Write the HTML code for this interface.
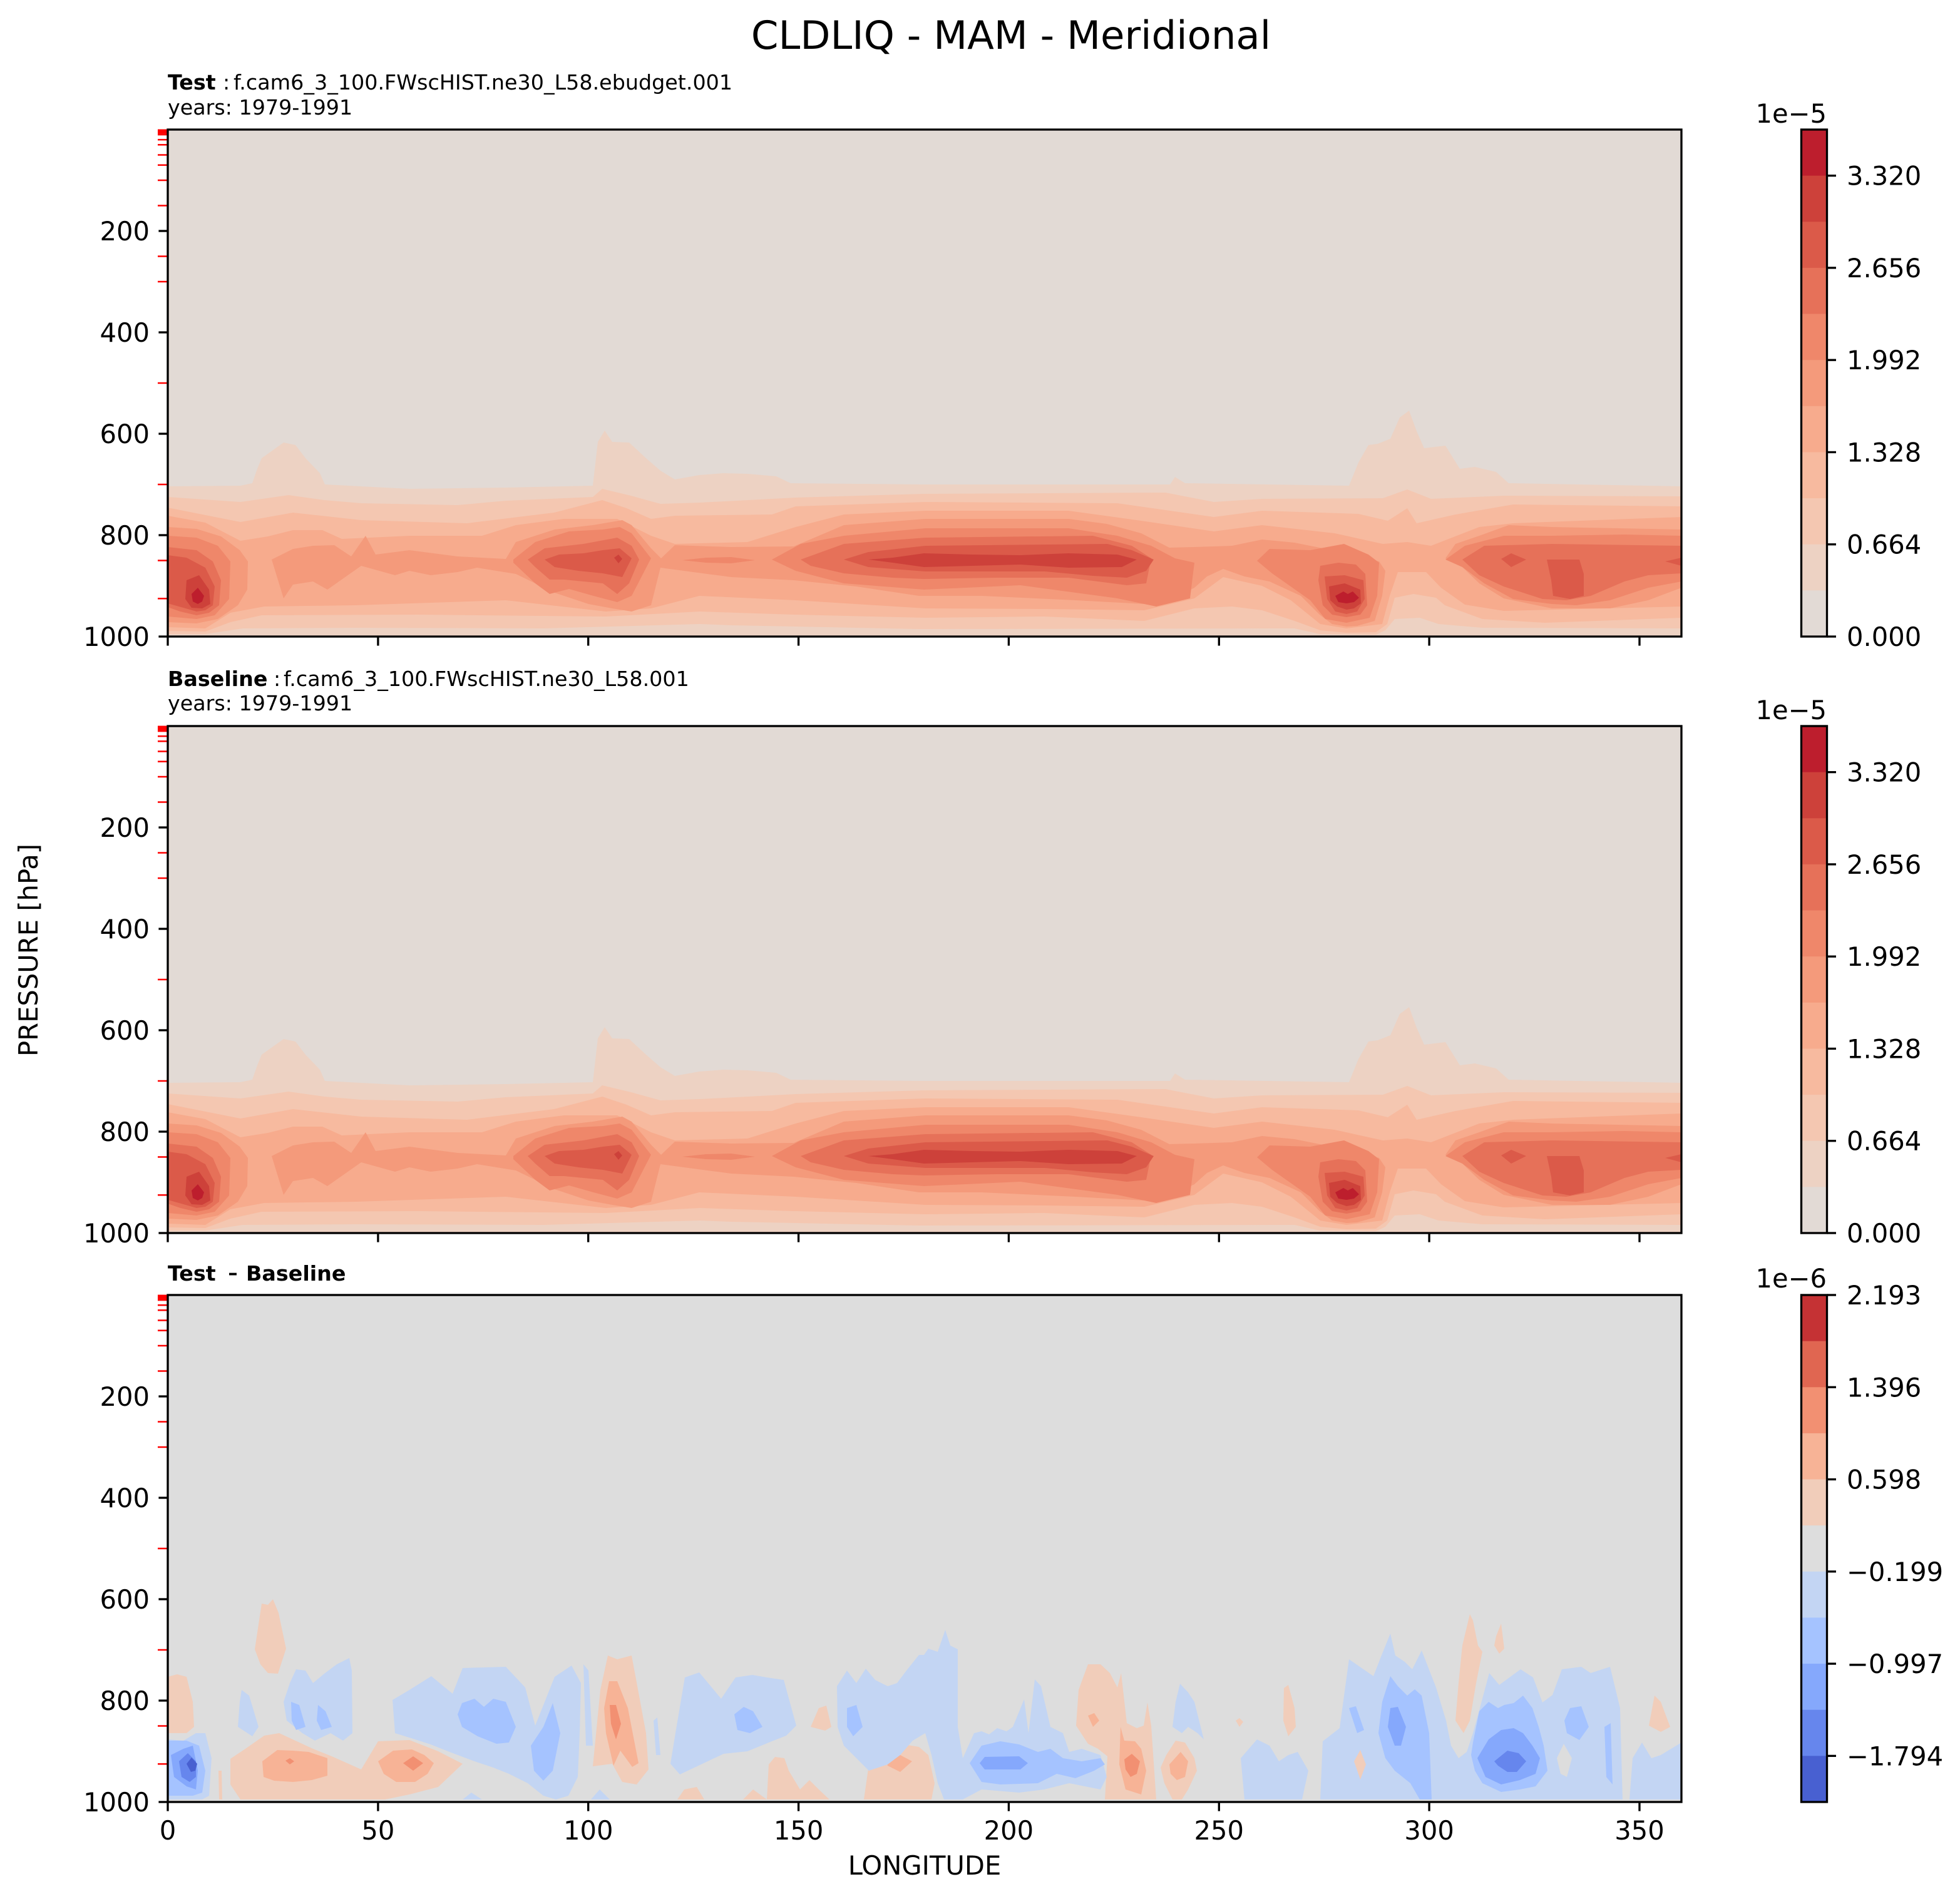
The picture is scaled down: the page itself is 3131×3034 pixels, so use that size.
<!DOCTYPE html>
<html>
<head>
<meta charset="utf-8">
<style>
html,body{margin:0;padding:0;background:#fff;}
svg{display:block;}
text{font-family:"DejaVu Sans","Liberation Sans",sans-serif;fill:#000;}
</style>
</head>
<body>
<svg xmlns="http://www.w3.org/2000/svg" width="3131" height="3034" viewBox="0 0 3131 3034">
<rect width="3131" height="3034" fill="#ffffff"/>
<defs>
<clipPath id="cp"><rect x="0" y="0" width="2418" height="810"/></clipPath>

<g id="fA">
<rect width="2418" height="810" fill="#e2dad5"/>
<polygon fill="#edd2c3" points="0,570 116,569 135,565 143,542 150,525 185,500 204,504 220,525 243,549 251,567 386,574 540,572 679,569 687,499 698,481 710,499 737,500 764,525 787,545 810,559 849,552 887,549 926,550 972,554 995,565 1208,567 1601,567 1609,555 1625,565 1887,569 1902,532 1918,504 1933,502 1953,494 1968,460 1983,449 1995,482 2007,509 2041,505 2064,542 2088,539 2122,547 2142,565 2418,570 2418,810 0,810"/>
<polygon fill="#f4c7b1" points="0,587 116,595 193,584 250,592 309,597 463,600 540,593 679,587 694,574 740,585 787,598 850,596 1003,588 1208,582 1594,580 1671,595 1748,590 1941,589 1980,575 2018,590 2134,585 2418,586 2418,797 2100,796 2030,790 2000,780 1960,782 1945,800 1930,807 1840,806 1800,797 1200,798 900,792 850,790 600,797 300,796 120,797 60,806 0,806"/>
<polygon fill="#f7ba9f" points="0,604 116,627 200,612 309,624 478,629 617,612 694,592 733,605 772,622 810,617 965,615 1003,602 1210,595 1517,597 1671,619 1748,609 1902,614 1949,625 1980,605 1995,629 2057,615 2149,599 2418,602 2418,780 2200,788 2100,782 2040,760 2026,748 1990,742 1960,748 1948,790 1930,803 1883,804 1841,800 1800,785 1748,768 1700,762 1640,765 1560,785 1400,778 1210,780 1000,775 850,770 700,778 400,775 150,776 100,787 60,802 0,801"/>
<polygon fill="#f7ab8d" points="0,617 60,628 116,657 160,650 200,640 247,640 278,654 386,649 502,649 556,632 633,622 718,622 772,649 810,662 926,659 1003,635 1080,615 1210,609 1439,609 1555,625 1671,642 1748,632 1864,645 1941,662 1980,659 2018,665 2095,635 2149,629 2418,619 2418,762 2134,769 2072,759 2034,732 2010,707 1965,707 1952,745 1940,790 1883,797 1841,790 1794,752 1748,729 1686,715 1640,749 1560,768 1400,766 1210,765 1003,752 849,745 772,765 700,770 540,752 300,760 154,762 100,772 60,797 0,795"/>
<g fill="#f49a7b">
<polygon points="0,635 46,638 85,650 115,672 128,690 127,735 112,760 80,782 46,789 0,787"/>
<polygon points="166,687 200,670 232,665 266,664 293,682 316,649 332,679 386,672 463,682 540,686 556,659 618,639 679,632 726,624 741,632 772,669 788,685 810,664 900,667 1000,666 1080,632 1210,622 1439,622 1500,630 1555,645 1600,668 1640,667 1700,665 1748,655 1800,660 1850,670 1900,680 1935,690 1945,705 1940,745 1928,785 1900,793 1883,794 1860,790 1840,775 1810,745 1760,722 1720,714 1686,702 1660,714 1640,732 1600,752 1560,758 1450,752 1300,745 1200,745 1100,730 1000,720 900,715 787,700 772,760 741,770 710,765 672,758 618,740 556,710 494,700 463,707 420,712 386,705 363,712 309,697 255,735 232,722 200,727 185,749"/>
<polygon points="2041,685 2057,662 2095,649 2142,632 2211,635 2418,639 2418,732 2365,752 2304,765 2211,765 2134,749 2095,725 2068,699"/>
</g>
<g fill="#ef876a">
<polygon points="0,649 46,652 80,665 100,690 98,750 75,776 46,782 0,778"/>
<polygon points="552,687 587,659 641,642 695,639 722,635 741,645 772,685 741,745 718,755 680,745 641,734 610,742 587,725 552,692"/>
<polygon points="822,688 860,684 900,683 938,688 900,693 860,692"/>
<polygon points="965,687 1011,662 1080,649 1210,637 1439,637 1517,649 1571,665 1609,685 1640,692 1633,749 1579,762 1517,749 1362,728 1208,735 1080,725 1003,705"/>
<polygon points="1740,689 1760,670 1825,672 1879,662 1918,679 1935,692 1932,745 1920,780 1883,788 1849,782 1825,752 1764,709"/>
<polygon points="2041,687 2072,665 2134,649 2211,649 2327,647 2418,649 2418,722 2365,732 2304,752 2250,760 2211,758 2149,750 2103,725 2068,699"/>
</g>
<g fill="#e67159">
<polygon points="0,667 46,672 72,690 85,720 82,760 66,772 46,776 20,770 0,763"/>
<polygon points="575,687 602,669 664,662 718,652 741,665 753,687 737,725 718,742 695,725 633,719 610,719 587,699"/>
<polygon points="1011,687 1080,662 1210,652 1478,649 1540,665 1571,685 1563,725 1532,728 1439,716 1324,716 1208,718 1158,716 1080,709 1027,697"/>
<polygon points="1841,697 1870,692 1898,695 1913,710 1916,760 1905,775 1883,779 1860,775 1845,760 1838,720"/>
<polygon points="2068,687 2103,665 2211,662 2418,665 2418,709 2365,712 2327,722 2273,745 2234,752 2196,750 2134,730 2095,712"/>
</g>
<g fill="#db5a49">
<polygon points="0,680 30,684 60,700 75,730 72,760 60,768 46,770 25,764 0,757"/>
<polygon points="602,687 625,679 664,677 695,672 722,669 741,685 726,715 695,709 656,705 618,699"/>
<polygon points="1080,687 1119,675 1210,665 1501,662 1540,672 1575,687 1563,705 1532,716 1478,713 1401,706 1285,706 1210,706 1119,699"/>
<polygon points="1848,714 1880,712 1910,720 1912,750 1900,770 1883,774 1865,770 1852,750"/>
<polygon points="2130,686 2146,677 2170,687 2146,699"/>
<polygon points="2203,687 2255,687 2262,710 2262,745 2240,750 2213,745 2210,720"/>
<polygon points="2418,684 2392,690 2418,697"/>
</g>
<g fill="#cd413a">
<polygon points="30,720 50,712 66,735 68,758 55,765 38,764 28,750"/>
<polygon points="713,684 720,679 726,686 720,693"/>
<polygon points="1119,687 1158,684 1208,677 1285,679 1362,680 1439,677 1517,679 1548,687 1524,699 1439,700 1362,695 1285,697 1208,699 1158,692"/>
<polygon points="1855,730 1880,725 1905,735 1906,757 1895,765 1883,767 1868,762 1857,752"/>
</g>
<g fill="#bd1e2d">
<polygon points="38,742 48,732 58,745 55,754 48,758 40,754"/>
<polygon points="1865,745 1878,738 1885,742 1893,738 1903,748 1895,755 1883,757 1870,755"/>
</g>
</g>

<g id="fD">
<rect width="2418" height="810" fill="#dddddd"/>
<g fill="#f1cdba">
<polygon points="0,610 15,606 30,610 40,650 42,690 30,700 0,700"/>
<polygon points="139,566 150,493 160,495 168,486 177,508 189,565 176,605 160,604 148,590"/>
<polygon points="100,741 124,725 154,704 178,700 232,725 262,737 309,758 336,713 386,711 432,729 471,749 432,786 386,798 347,806 116,806 100,782"/>
<polygon points="81,760 86,760 87,806 82,806"/>
<polygon points="278,795 300,790 305,806 278,806"/>
<polygon points="703,576 718,582 741,576 749,619 764,700 768,758 749,782 726,778 710,749 679,753 691,631"/>
<polygon points="814,806 825,790 845,786 857,806"/>
<polygon points="919,806 935,790 957,806"/>
<polygon points="957,806 960,750 970,738 985,740 992,760 1010,790 1025,775 1040,790 1057,806"/>
<polygon points="1027,690 1040,660 1052,656 1060,690 1050,696"/>
<polygon points="1112,806 1120,750 1140,725 1170,717 1200,722 1215,735 1225,780 1220,806"/>
<polygon points="1455,631 1470,590 1490,590 1505,604 1517,627 1523,604 1532,684 1548,692 1559,688 1565,651 1571,688 1579,806 1497,806 1501,737 1486,725 1470,717 1451,688"/>
<polygon points="1595,735 1610,712 1625,715 1640,740 1644,760 1630,790 1620,806 1605,806 1592,780 1586,755"/>
<polygon points="1706,680 1712,676 1718,682 1712,690"/>
<polygon points="1783,628 1790,623 1800,660 1802,690 1790,705 1782,680"/>
<polygon points="2068,560 2080,510 2085,520 2093,560 2100,570 2090,620 2080,680 2070,700 2057,680 2062,620"/>
<polygon points="2122,545 2130,525 2135,565 2127,573 2119,560"/>
<polygon points="2375,640 2385,650 2400,690 2385,698 2366,688"/>
</g>
<g fill="#f7b396">
<polygon points="151,745 175,727 200,728 225,730 255,740 255,768 230,775 200,778 170,776 153,770"/>
<polygon points="336,745 360,728 390,726 410,735 425,748 415,765 395,778 365,778 345,765"/>
<polygon points="705,617 718,617 735,660 752,748 742,754 723,728 712,752 700,700 697,660"/>
<polygon points="1146,740 1170,735 1189,745 1170,762 1150,752"/>
<polygon points="1522,690 1528,712 1545,713 1555,725 1563,760 1555,798 1530,790 1520,750"/>
<polygon points="1470,672 1480,668 1488,680 1478,690"/>
<polygon points="1600,750 1618,730 1630,745 1625,770 1612,775 1602,765"/>
</g>
<g fill="#f29072">
<polygon points="188,744 195,740 202,745 195,750"/>
<polygon points="376,748 392,737 408,748 392,760"/>
<polygon points="706,655 716,655 724,685 716,710 708,685"/>
<polygon points="1528,742 1540,733 1553,745 1548,765 1538,770 1530,758"/>
</g>
<g fill="#c3d5f3">
<polygon points="0,710 25,712 45,700 60,700 70,740 66,800 55,806 0,806"/>
<polygon points="118,631 130,640 145,690 135,705 112,690 115,650"/>
<polygon points="205,598 220,600 232,620 250,605 270,590 290,580 294,600 295,700 280,712 260,700 235,712 215,700 190,680 185,650 195,620"/>
<polygon points="359,647 386,631 421,609 455,637 471,596 540,594 571,627 587,688 618,610 645,592 660,620 658,700 655,770 640,800 620,806 600,800 575,780 545,765 520,755 490,745 450,730 420,718 395,710 363,700"/>
<polygon points="664,590 672,600 679,720 668,720"/>
<polygon points="776,680 782,675 787,735 780,735"/>
<polygon points="471,806 485,795 502,806"/>
<polygon points="676,806 690,790 706,806"/>
<polygon points="826,611 849,603 884,645 907,611 934,607 957,611 984,615 1004,688 988,704 965,713 926,729 888,733 818,766 803,749 811,700"/>
<polygon points="1069,625 1085,600 1100,620 1115,597 1130,615 1150,625 1165,620 1180,600 1200,575 1208,575 1215,565 1230,570 1242,535 1250,560 1262,566 1262,690 1270,740 1288,700 1300,697 1312,702 1325,692 1340,697 1350,690 1368,646 1375,700 1385,614 1395,625 1410,690 1430,700 1440,730 1460,725 1490,735 1500,770 1490,790 1470,786 1440,780 1400,790 1360,795 1300,790 1270,806 1240,806 1230,780 1220,735 1210,700 1190,712 1170,735 1150,750 1120,760 1100,740 1080,720 1070,690"/>
<polygon points="1617,621 1630,635 1640,650 1655,710 1645,700 1630,690 1620,700 1605,690 1610,650"/>
<polygon points="1714,740 1740,710 1760,720 1775,745 1790,735 1805,730 1822,760 1812,806 1720,806"/>
<polygon points="1845,713 1872,692 1887,582 1926,609 1938,578 1953,541 1961,576 1976,586 1988,598 2003,568 2026,627 2042,680 2050,720 2062,740 2075,730 2085,700 2096,660 2111,604 2127,623 2161,598 2181,611 2196,651 2212,639 2227,598 2258,594 2273,604 2304,594 2320,660 2324,806 1841,806"/>
<polygon points="2335,806 2340,740 2355,715 2370,740 2385,735 2418,715 2418,806"/>
</g>
<polygon fill="#dddddd" points="2219,740 2230,717 2243,740 2235,770 2225,765"/>
<polygon fill="#f1cdba" points="1895,745 1905,727 1914,750 1905,774"/>
<g fill="#a5c3ff">
<polygon points="0,712 30,712 50,720 60,760 55,795 40,800 0,800"/>
<polygon points="197,650 210,655 220,690 205,695 198,680"/>
<polygon points="240,655 252,665 262,690 245,695 238,680"/>
<polygon points="470,652 490,645 505,658 520,645 540,650 556,690 545,715 525,717 495,705 470,690 463,670"/>
<polygon points="615,652 627,700 615,760 600,776 585,760 580,720 600,690"/>
<polygon points="905,670 920,658 935,665 950,690 930,700 910,695"/>
<polygon points="1085,660 1100,655 1110,690 1095,705 1085,690"/>
<polygon points="1281,748 1300,720 1330,713 1360,718 1390,730 1410,725 1430,740 1460,745 1490,740 1497,750 1480,760 1450,772 1420,765 1390,780 1330,782 1300,778"/>
<polygon points="1953,609 1965,625 1980,640 1992,630 2003,640 2015,700 2019,806 2000,806 1985,780 1960,760 1945,740 1934,700 1940,650"/>
<polygon points="1887,660 1898,657 1911,695 1900,700"/>
<polygon points="2085,715 2095,665 2110,650 2125,660 2135,655 2150,652 2165,640 2180,660 2190,690 2198,720 2204,760 2185,785 2160,790 2130,794 2100,780 2088,760 2082,735"/>
<polygon points="2240,660 2258,657 2270,690 2255,711 2235,700 2231,680"/>
<polygon points="2295,690 2305,684 2308,782 2298,770"/>
</g>
<g fill="#85a8fc">
<polygon points="5,735 25,725 40,720 48,760 45,790 30,785 10,770"/>
<polygon points="1297,748 1305,738 1360,737 1374,748 1362,758 1305,758"/>
<polygon points="1953,660 1965,658 1978,690 1970,720 1960,720 1949,690"/>
<polygon points="2092,740 2110,710 2130,695 2150,692 2165,700 2180,720 2192,740 2185,765 2160,775 2130,782 2105,770"/>
</g>
<g fill="#6686ed">
<polygon points="18,745 32,732 45,745 45,770 35,778 22,770"/>
<polygon points="2119,745 2140,728 2158,732 2170,745 2155,762 2140,762 2125,752"/>
</g>
<g fill="#4860d1">
<polygon points="30,749 38,739 47,749 44,760 37,762"/>
</g>
</g>

<g id="yax">
<g stroke="#ff0000" stroke-width="2.5">
<line x1="252" y1="0.8" x2="268" y2="0.8"/>
<line x1="252" y1="1.6" x2="268" y2="1.6"/>
<line x1="252" y1="2.4" x2="268" y2="2.4"/>
<line x1="252" y1="4.05" x2="268" y2="4.05"/>
<line x1="252" y1="5.7" x2="268" y2="5.7"/>
<line x1="252" y1="8.1" x2="268" y2="8.1"/>
<line x1="252" y1="16.2" x2="268" y2="16.2"/>
<line x1="252" y1="24.3" x2="268" y2="24.3"/>
<line x1="252" y1="40.5" x2="268" y2="40.5"/>
<line x1="252" y1="56.7" x2="268" y2="56.7"/>
<line x1="252" y1="81" x2="268" y2="81"/>
<line x1="252" y1="121.5" x2="268" y2="121.5"/>
<line x1="252" y1="202.5" x2="268" y2="202.5"/>
<line x1="252" y1="243" x2="268" y2="243"/>
<line x1="252" y1="405" x2="268" y2="405"/>
<line x1="252" y1="567" x2="268" y2="567"/>
<line x1="252" y1="688.5" x2="268" y2="688.5"/>
<line x1="252" y1="749.3" x2="268" y2="749.3"/>
</g>
<g stroke="#000" stroke-width="3.33">
<line x1="253.4" y1="162" x2="268" y2="162"/>
<line x1="253.4" y1="324" x2="268" y2="324"/>
<line x1="253.4" y1="486" x2="268" y2="486"/>
<line x1="253.4" y1="648" x2="268" y2="648"/>
<line x1="253.4" y1="810" x2="268" y2="810"/>
</g>
<g font-size="41.67" text-anchor="end">
<text x="239" y="177">200</text>
<text x="239" y="339">400</text>
<text x="239" y="501">600</text>
<text x="239" y="663">800</text>
<text x="239" y="825">1000</text>
</g>
</g>

<g id="xax" stroke="#000" stroke-width="3.33">
<line x1="268" y1="0" x2="268" y2="14.6"/>
<line x1="603.9" y1="0" x2="603.9" y2="14.6"/>
<line x1="939.7" y1="0" x2="939.7" y2="14.6"/>
<line x1="1275.6" y1="0" x2="1275.6" y2="14.6"/>
<line x1="1611.4" y1="0" x2="1611.4" y2="14.6"/>
<line x1="1947.3" y1="0" x2="1947.3" y2="14.6"/>
<line x1="2283.1" y1="0" x2="2283.1" y2="14.6"/>
<line x1="2619" y1="0" x2="2619" y2="14.6"/>
</g>

<g id="cbA">
<rect x="2877.5" y="0" width="41" height="74" fill="#bd1e2d"/>
<rect x="2877.5" y="73.64" width="41" height="74" fill="#cd413a"/>
<rect x="2877.5" y="147.27" width="41" height="74" fill="#db5a49"/>
<rect x="2877.5" y="220.91" width="41" height="74" fill="#e67159"/>
<rect x="2877.5" y="294.55" width="41" height="74" fill="#ef876a"/>
<rect x="2877.5" y="368.18" width="41" height="74" fill="#f49a7b"/>
<rect x="2877.5" y="441.82" width="41" height="74" fill="#f7ab8d"/>
<rect x="2877.5" y="515.45" width="41" height="74" fill="#f7ba9f"/>
<rect x="2877.5" y="589.09" width="41" height="74" fill="#f4c7b1"/>
<rect x="2877.5" y="662.73" width="41" height="74" fill="#edd2c3"/>
<rect x="2877.5" y="736.36" width="41" height="73.64" fill="#e2dad5"/>
<rect x="2877.5" y="0" width="41" height="810" fill="none" stroke="#000" stroke-width="3.33"/>
<g stroke="#000" stroke-width="3.33">
<line x1="2918.5" y1="810" x2="2933" y2="810"/>
<line x1="2918.5" y1="662.73" x2="2933" y2="662.73"/>
<line x1="2918.5" y1="515.45" x2="2933" y2="515.45"/>
<line x1="2918.5" y1="368.18" x2="2933" y2="368.18"/>
<line x1="2918.5" y1="220.91" x2="2933" y2="220.91"/>
<line x1="2918.5" y1="73.64" x2="2933" y2="73.64"/>
</g>
<g font-size="41.67">
<text x="2950" y="825">0.000</text>
<text x="2950" y="677.7">0.664</text>
<text x="2950" y="530.5">1.328</text>
<text x="2950" y="383.2">1.992</text>
<text x="2950" y="235.9">2.656</text>
<text x="2950" y="88.6">3.320</text>
<text x="2918" y="-11" text-anchor="end">1e−5</text>
</g>
</g>
</defs>

<!-- Title -->
<text x="1615" y="78" font-size="62.5" text-anchor="middle">CLDLIQ - MAM - Meridional</text>

<!-- Panel 1 -->
<text x="268" y="143" font-size="33.33"><tspan font-weight="bold">Test</tspan><tspan x="356">:</tspan><tspan x="373">f.cam6_3_100.FWscHIST.ne30_L58.ebudget.001</tspan></text>
<text x="268" y="183" font-size="33.33">years: 1979-1991</text>
<g transform="translate(268,207)" clip-path="url(#cp)"><use href="#fA"/></g>
<use href="#yax" transform="translate(0,207)"/>
<use href="#xax" transform="translate(0,1017)"/>
<rect x="268" y="207" width="2418" height="810" fill="none" stroke="#000" stroke-width="3.33"/>
<use href="#cbA" transform="translate(0,207)"/>

<!-- Panel 2 -->
<text x="268" y="1096" font-size="33.33"><tspan font-weight="bold">Baseline</tspan><tspan x="437">:</tspan><tspan x="453">f.cam6_3_100.FWscHIST.ne30_L58.001</tspan></text>
<text x="268" y="1135" font-size="33.33">years: 1979-1991</text>
<g transform="translate(268,1160)" clip-path="url(#cp)"><use href="#fA"/></g>
<use href="#yax" transform="translate(0,1160)"/>
<use href="#xax" transform="translate(0,1970)"/>
<rect x="268" y="1160" width="2418" height="810" fill="none" stroke="#000" stroke-width="3.33"/>
<use href="#cbA" transform="translate(0,1160)"/>

<!-- Panel 3 -->
<text x="268" y="2046" font-size="33.33" font-weight="bold">Test</text>
<text x="364" y="2046" font-size="33.33" font-weight="bold" textLength="16" lengthAdjust="spacingAndGlyphs">−</text>
<text x="393" y="2046" font-size="33.33" font-weight="bold">Baseline</text>
<g transform="translate(268,2069)" clip-path="url(#cp)"><use href="#fD"/></g>
<use href="#yax" transform="translate(0,2069)"/>
<use href="#xax" transform="translate(0,2879)"/>
<rect x="268" y="2069" width="2418" height="810" fill="none" stroke="#000" stroke-width="3.33"/>

<g font-size="41.67" text-anchor="middle">
<text x="268" y="2939">0</text>
<text x="603.9" y="2939">50</text>
<text x="939.7" y="2939">100</text>
<text x="1275.6" y="2939">150</text>
<text x="1611.4" y="2939">200</text>
<text x="1947.3" y="2939">250</text>
<text x="2283.1" y="2939">300</text>
<text x="2619" y="2939">350</text>
</g>
<text x="1477" y="2995" font-size="41.67" text-anchor="middle">LONGITUDE</text>
<text transform="translate(60,1518) rotate(-90)" font-size="41.67" text-anchor="middle">PRESSURE [hPa]</text>

<!-- Colorbar 3 -->
<g transform="translate(0,2069)">
<rect x="2877.5" y="0" width="41" height="74" fill="#c53234"/>
<rect x="2877.5" y="73.64" width="41" height="74" fill="#e06651"/>
<rect x="2877.5" y="147.27" width="41" height="74" fill="#f29072"/>
<rect x="2877.5" y="220.91" width="41" height="74" fill="#f7b396"/>
<rect x="2877.5" y="294.55" width="41" height="74" fill="#f1cdba"/>
<rect x="2877.5" y="368.18" width="41" height="74" fill="#dddddd"/>
<rect x="2877.5" y="441.82" width="41" height="74" fill="#c3d5f3"/>
<rect x="2877.5" y="515.45" width="41" height="74" fill="#a5c3ff"/>
<rect x="2877.5" y="589.09" width="41" height="74" fill="#85a8fc"/>
<rect x="2877.5" y="662.73" width="41" height="74" fill="#6686ed"/>
<rect x="2877.5" y="736.36" width="41" height="73.64" fill="#4860d1"/>
<rect x="2877.5" y="0" width="41" height="810" fill="none" stroke="#000" stroke-width="3.33"/>
<g stroke="#000" stroke-width="3.33">
<line x1="2918.5" y1="0" x2="2933" y2="0"/>
<line x1="2918.5" y1="147.27" x2="2933" y2="147.27"/>
<line x1="2918.5" y1="294.55" x2="2933" y2="294.55"/>
<line x1="2918.5" y1="441.82" x2="2933" y2="441.82"/>
<line x1="2918.5" y1="589.09" x2="2933" y2="589.09"/>
<line x1="2918.5" y1="736.36" x2="2933" y2="736.36"/>
</g>
<g font-size="41.67">
<text x="2950" y="15">2.193</text>
<text x="2950" y="162.3">1.396</text>
<text x="2950" y="309.5">0.598</text>
<text x="2950" y="456.8">−0.199</text>
<text x="2950" y="604.1">−0.997</text>
<text x="2950" y="751.4">−1.794</text>
<text x="2918" y="-12" text-anchor="end">1e−6</text>
</g>
</g>
</svg>
</body>
</html>
